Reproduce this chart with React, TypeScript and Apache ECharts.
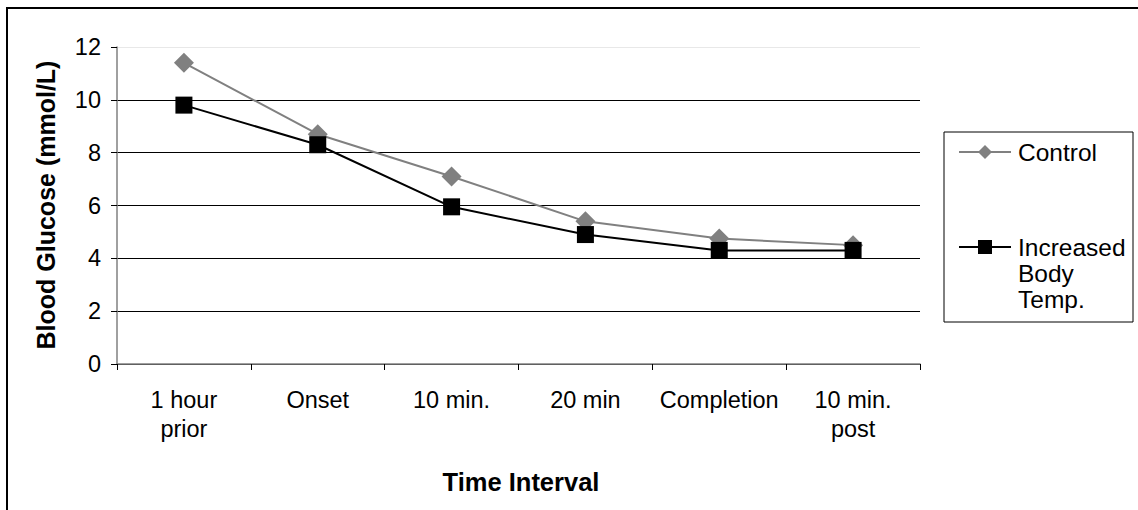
import React, { useEffect, useRef } from "react";
import * as echarts from "echarts";

const categories = ["1 hour\nprior", "Onset", "10 min.", "20 min", "Completion", "10 min.\npost"];
const controlValues = [11.4, 8.7, 7.1, 5.4, 4.75, 4.5];
const increasedValues = [9.8, 8.3, 5.95, 4.9, 4.3, 4.3];
const seriesNames = ["Control", "Increased Body Temp."];
const yTicks = { min: 0, max: 12, interval: 2 };

const FONT = "Liberation Sans, Arial, sans-serif";

export default function App() {
  const ref = useRef<HTMLDivElement>(null);
  useEffect(() => {
    if (!ref.current) return;
    const chart = echarts.init(ref.current, undefined, { renderer: "svg" });
    chart.setOption({
      animation: false,
      backgroundColor: "#ffffff",
      textStyle: { fontFamily: FONT },
      grid: { left: 117, top: 47, right: 218, bottom: 146, containLabel: false },
      xAxis: {
        type: "category",
        data: categories,
        boundaryGap: true,
        axisLine: { show: true, lineStyle: { color: "#808080", width: 1.5 } },
        axisTick: { show: true, alignWithLabel: false, length: 6, lineStyle: { color: "#000" } },
        axisLabel: { color: "#000", fontSize: 23.5, lineHeight: 29, margin: 21, fontFamily: FONT, interval: 0 },
        splitLine: { show: false },
      },
      yAxis: {
        type: "value",
        min: yTicks.min,
        max: yTicks.max,
        interval: yTicks.interval,
        axisLine: { show: true, lineStyle: { color: "#808080", width: 1.5 } },
        axisTick: { show: true, length: 6, lineStyle: { color: "#000" } },
        axisLabel: { color: "#000", fontSize: 23.5, margin: 16, fontFamily: FONT },
        splitLine: {
          show: true,
          lineStyle: { color: ["#000", "#000", "#000", "#000", "#000", "#000", "#e8e8e8"], width: 1 },
        },
      },
      series: [
        {
          name: seriesNames[0],
          type: "line",
          data: controlValues,
          symbol: "diamond",
          symbolSize: 20,
          z: 2,
          lineStyle: { color: "#808080", width: 2 },
          itemStyle: { color: "#808080" },
        },
        {
          name: seriesNames[1],
          type: "line",
          data: increasedValues,
          symbol: "rect",
          symbolSize: 17,
          z: 3,
          lineStyle: { color: "#000", width: 2 },
          itemStyle: { color: "#000" },
        },
      ],
      graphic: [
        {
          type: "rect",
          shape: { x: 7, y: 8, width: 1200, height: 600 },
          style: { fill: "none", stroke: "#000", lineWidth: 2 },
          silent: true,
        },
        {
          type: "text",
          x: 46,
          y: 205,
          rotation: Math.PI / 2,
          style: {
            text: "Blood Glucose (mmol/L)",
            font: `bold 25px ${FONT}`,
            fill: "#000",
            align: "center",
            verticalAlign: "middle",
          },
        },
        {
          type: "text",
          x: 521,
          y: 482,
          style: {
            text: "Time Interval",
            font: `bold 25.5px ${FONT}`,
            fill: "#000",
            align: "center",
            verticalAlign: "middle",
          },
        },
        {
          type: "rect",
          shape: { x: 944, y: 132, width: 189, height: 190 },
          style: { fill: "#fff", stroke: "#000", lineWidth: 1 },
        },
        {
          type: "line",
          shape: { x1: 959, y1: 152, x2: 1011, y2: 152 },
          style: { stroke: "#808080", lineWidth: 2 },
        },
        {
          type: "polygon",
          shape: { points: [[985, 145], [992, 152], [985, 159], [978, 152]] },
          style: { fill: "#808080" },
        },
        {
          type: "text",
          x: 1018,
          y: 152,
          style: { text: "Control", font: `24.5px ${FONT}`, fill: "#000", verticalAlign: "middle" },
        },
        {
          type: "line",
          shape: { x1: 959, y1: 247, x2: 1011, y2: 247 },
          style: { stroke: "#000", lineWidth: 2 },
        },
        {
          type: "rect",
          shape: { x: 978, y: 240, width: 14, height: 14 },
          style: { fill: "#000" },
        },
        {
          type: "text",
          x: 1018,
          y: 234,
          style: {
            text: "Increased\nBody\nTemp.",
            font: `24.5px ${FONT}`,
            lineHeight: 26,
            fill: "#000",
            verticalAlign: "top",
          },
        },
      ],
    });
    return () => chart.dispose();
  }, []);
  return (
    <div
      ref={ref}
      style={{ position: "fixed", left: 0, top: 0, width: 1138, height: 510 }}
    />
  );
}
